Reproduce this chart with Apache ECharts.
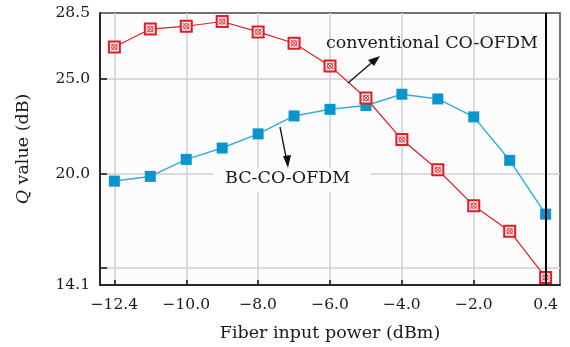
<!DOCTYPE html>
<html><head><meta charset="utf-8">
<script src="https://cdn.jsdelivr.net/npm/echarts@6/dist/echarts.min.js"></script>
<style>html,body{margin:0;padding:0;background:#fff}#c{width:570px;height:347px}</style>
</head><body><div id="c"></div>
<script>
const powers = [-12, -11, -10, -9, -8, -7, -6, -5, -4, -3, -2, -1, 0];
const conventional = [26.7, 27.65, 27.8, 28.05, 27.5, 26.9, 25.7, 24.0, 21.8, 20.2, 18.3, 16.95, 14.5];
const bcCoOfdm = [19.6, 19.85, 20.75, 21.35, 22.1, 23.05, 23.4, 23.6, 24.2, 23.95, 23.0, 20.7, 17.85];
const xTickValues = [-12, -10, -8, -6, -4, -2, 0];
const xTickLabels = ['\u221212.4', '\u221210.0', '\u22128.0', '\u22126.0', '\u22124.0', '\u22122.0', '0.4'];
const yTickValues = [15, 20, 25];
const yLabelValues = [14.1, 20, 25, 28.5];
const yLabelTexts = ['14.1', '20.0', '25.0', '28.5'];
const refLineX = 0;

const FONT = 'DejaVu Serif';
const chart = echarts.init(document.getElementById('c'), null, {renderer: 'canvas'});
const pair = (xs, ys) => xs.map((x, i) => [x, ys[i]]);
const RED = '#dc1e26', BLUE = '#0a96cc', BLUE_LINE = '#35ace0';
const BIG = 17.5;

chart.setOption({
  animation: false,
  grid: {left: 100, top: 13, right: 10, bottom: 58, show: true, backgroundColor: '#fcfcfc', borderColor: '#444', borderWidth: 1.5},
  xAxis: {
    type: 'value', min: -12.4, max: 0.4,
    name: 'Fiber input power (dBm)', nameLocation: 'middle', nameGap: 39,
    nameTextStyle: {fontFamily: FONT, fontSize: BIG, color: '#1a1a1a'},
    axisLine: {onZero: false, lineStyle: {color: '#111', width: 1.5}},
    axisTick: {inside: true, length: 5, lineStyle: {color: '#111', width: 1.5}, customValues: xTickValues},
    axisLabel: {customValues: xTickValues, margin: 12, fontFamily: FONT, fontSize: 15.5, color: '#1a1a1a',
      formatter: v => xTickLabels[xTickValues.indexOf(Math.round(v))]},
    splitLine: {show: true, lineStyle: {color: ['#cfcfcf','#cfcfcf','#cfcfcf','#cfcfcf','#cfcfcf','#cfcfcf','rgba(0,0,0,0)'], width: 1.5}}
  },
  yAxis: {
    type: 'value', min: 14.1, max: 28.5,
    name: '{i|Q} value (dB)', nameLocation: 'middle', nameGap: 68, nameRotate: 90,
    nameTextStyle: {fontFamily: FONT, fontSize: BIG, color: '#1a1a1a', rich: {i: {fontStyle: 'italic', fontFamily: FONT, fontSize: BIG, color: '#1a1a1a'}}},
    axisLine: {show: true, onZero: false, lineStyle: {color: '#111', width: 1.5}},
    axisTick: {show: true, inside: true, length: 7, lineStyle: {color: '#111', width: 1.5}, customValues: yTickValues},
    axisLabel: {customValues: yLabelValues, margin: 10, fontFamily: FONT, fontSize: 15.5, color: '#1a1a1a',
      formatter: v => yLabelTexts[yLabelValues.findIndex(t => Math.abs(t - v) < 1e-6)]},
    splitLine: {show: true, lineStyle: {color: '#cfcfcf', width: 1.5}}
  },
  series: [
    {
      name: 'conventional CO-OFDM', type: 'line', data: pair(powers, conventional),
      symbol: 'rect', symbolSize: 11, z: 3,
      lineStyle: {color: RED, width: 1.2},
      itemStyle: {color: '#fbe3e4', borderColor: RED, borderWidth: 2},
      markLine: {silent: true, symbol: 'none', label: {show: false}, lineStyle: {color: '#000', width: 2, type: 'solid'}, data: [{xAxis: refLineX}]}
    },
    {
      name: 'conventional-x', type: 'scatter', data: pair(powers, conventional),
      symbol: 'path://M0,0L10,10M10,0L0,10M5,0.5A4.5,4.5 0 1 1 4.99,0.5', symbolSize: 6, z: 4,
      itemStyle: {color: 'rgba(0,0,0,0)', borderColor: RED, borderWidth: 1}
    },
    {
      name: 'BC-CO-OFDM', type: 'line', data: pair(powers, bcCoOfdm),
      symbol: 'rect', symbolSize: 11, z: 2,
      lineStyle: {color: BLUE_LINE, width: 1.5},
      itemStyle: {color: BLUE, borderWidth: 0}
    }
  ],
  graphic: [
    {type: 'text', left: 326, top: 34, z: 10, style: {text: 'conventional CO-OFDM', fontFamily: FONT, fontSize: BIG, fill: '#1a1a1a'}},
    {type: 'line', z: 10, shape: {x1: 348, y1: 83, x2: 376, y2: 59}, style: {stroke: '#111', lineWidth: 1.3}},
    {type: 'polygon', z: 10, shape: {points: [[380, 56], [368, 60], [374, 66]]}, style: {fill: '#111'}},
    {type: 'rect', z: 9, shape: {x: 214, y: 168, width: 156, height: 24}, style: {fill: '#fcfcfc'}},
    {type: 'text', left: 225, top: 169, z: 10, style: {text: 'BC-CO-OFDM', fontFamily: FONT, fontSize: BIG, fill: '#1a1a1a'}},
    {type: 'line', z: 10, shape: {x1: 280, y1: 127, x2: 287, y2: 162}, style: {stroke: '#111', lineWidth: 1.3}},
    {type: 'polygon', z: 10, shape: {points: [[288, 168], [283, 156], [291, 155]]}, style: {fill: '#111'}}
  ]
});
</script></body></html>
